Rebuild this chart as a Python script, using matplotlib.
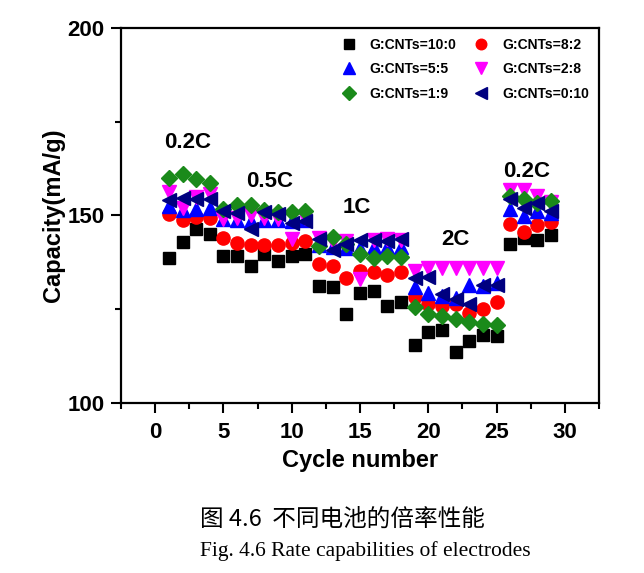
import matplotlib
matplotlib.use('Agg')
import matplotlib.pyplot as plt
from matplotlib.ticker import MultipleLocator

plt.rcParams['font.family'] = ['Liberation Sans', 'DejaVu Sans']
plt.rcParams['font.weight'] = 'bold'

# Cycle numbers
cycles = list(range(1, 30))

# Capacity (mA/g) for each G:CNTs ratio
cap_10_0 = [138.7, 143.0, 146.3, 145.1, 139.2, 139.2, 136.5, 139.8, 137.9, 139.2,
            139.6, 131.2, 130.8, 123.8, 129.2, 129.9, 125.9, 127.0, 115.5, 118.8,
            119.4, 113.5, 116.4, 118.2, 117.9, 142.3, 143.9, 143.4, 144.8]
cap_8_2 = [150.3, 148.8, 149.6, 149.4, 144.1, 142.7, 142.0, 142.0, 142.0, 142.6,
           143.2, 137.1, 136.4, 133.4, 135.2, 134.9, 134.0, 134.9, 128.3, 126.5,
           125.9, 126.3, 124.1, 125.0, 127.0, 147.6, 145.7, 147.4, 148.2]
cap_5_5 = [152.5, 151.5, 151.6, 152.0, 149.0, 148.8, 148.5, 148.8, 148.8, 148.6,
           148.8, 142.0, 141.5, 141.3, 141.3, 141.5, 141.5, 141.5, 130.8, 129.4,
           128.5, 128.0, 131.5, 131.3, 132.1, 151.6, 149.8, 151.1, 150.7]
cap_2_8 = [156.2, 152.0, 155.0, 155.6, 149.0, 149.4, 150.0, 149.2, 149.0, 143.6,
           149.4, 143.9, 143.0, 143.2, 133.0, 143.5, 143.7, 143.5, 135.2, 135.9,
           135.9, 135.9, 135.9, 135.9, 135.9, 156.7, 156.7, 155.3, 153.5]
cap_1_9 = [160.0, 161.1, 159.6, 158.7, 151.6, 152.9, 152.9, 151.5, 150.9, 150.9,
           151.1, 141.8, 144.2, 142.5, 139.8, 138.7, 139.2, 139.0, 125.6, 123.7,
           123.2, 122.3, 121.5, 121.0, 120.7, 155.1, 154.4, 153.4, 153.8]
cap_0_10 = [154.0, 154.7, 154.3, 154.3, 151.1, 150.7, 146.5, 150.9, 150.3, 148.1,
            148.5, 143.6, 140.7, 142.5, 143.4, 143.4, 143.2, 143.6, 133.2, 133.6,
            129.0, 127.7, 126.5, 131.5, 131.5, 154.3, 152.0, 153.4, 151.1]

labels = ['G:CNTs=10:0', 'G:CNTs=8:2', 'G:CNTs=5:5',
          'G:CNTs=2:8', 'G:CNTs=1:9', 'G:CNTs=0:10']

# Rate labels and where they sit
rate_labels = ['0.2C', '0.5C', '1C', '2C', '0.2C']
rate_x = [2.4, 8.4, 14.8, 22.0, 27.2]
rate_y = [169.4, 159.0, 152.1, 143.6, 161.8]

fig = plt.figure(figsize=(6.44, 5.73), dpi=100)
ax = fig.add_axes([0.188, 0.297, 0.742, 0.654])

series = [cap_10_0, cap_8_2, cap_5_5, cap_2_8, cap_1_9, cap_0_10]
markers = ['s', 'o', '^', 'v', 'D', '<']
colors = ['black', '#ff0000', '#0000ff', '#ff00ff', '#1a8a1a', '#000080']
sizes = [8.5, 9.5, 10, 10, 8.5, 10]

handles = []
for ys, m, c, s, lab in zip(series, markers, colors, sizes, labels):
    h, = ax.plot(cycles, ys, linestyle='none', marker=m, color=c,
                 markersize=s, label=lab)
    handles.append(h)

for t, x, y in zip(rate_labels, rate_x, rate_y):
    ax.text(x, y, t, fontsize=16, fontweight='bold', ha='center', va='center')

ax.set_xlim(-2.5, 32.5)
ax.set_ylim(100, 200)
ax.xaxis.set_major_locator(MultipleLocator(5))
ax.xaxis.set_minor_locator(MultipleLocator(2.5))
ax.yaxis.set_major_locator(MultipleLocator(50))
ax.yaxis.set_minor_locator(MultipleLocator(25))
ax.tick_params(which='major', direction='out', length=7, width=1.5,
               labelsize=16)
ax.tick_params(axis='x', which='major', pad=7)
ax.tick_params(axis='y', which='major', pad=5)
ax.tick_params(which='minor', direction='out', length=4, width=1.5)
for sp in ax.spines.values():
    sp.set_linewidth(1.6)

ax.set_xlabel('Cycle number', fontsize=17, fontweight='bold', labelpad=4)
ax.set_ylabel('Capacity(mA/g)', fontsize=17, fontweight='bold', labelpad=2)

order = [0, 2, 4, 1, 3, 5]
ax.legend([handles[i] for i in order], [labels[i] for i in order],
          ncol=2, loc='upper right', frameon=False, fontsize=10,
          handletextpad=0.5, columnspacing=0.8, labelspacing=0.75,
          borderaxespad=0.3, markerscale=0.8)

fig.text(0.531, 0.094, '图 4.6  不同电池的倍率性能', ha='center', va='center',
         fontsize=17, fontweight='normal',
         family=['Noto Sans CJK SC', 'DejaVu Sans'])
fig.text(0.568, 0.038, 'Fig. 4.6 Rate capabilities of electrodes',
         ha='center', va='center', fontsize=15.5, fontweight='normal',
         family=['Liberation Serif', 'DejaVu Serif'])

fig.savefig('out.png', dpi=100)
